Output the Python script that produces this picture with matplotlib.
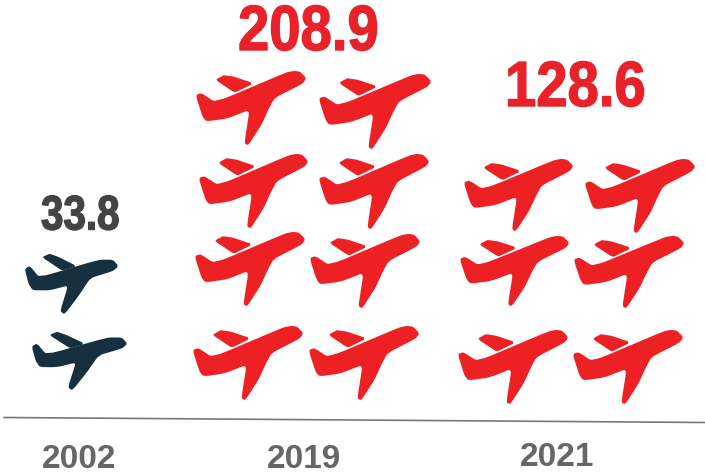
import matplotlib

matplotlib.use("Agg")
import matplotlib.pyplot as plt
import matplotlib.patheffects as pe
from matplotlib.patches import Polygon
from matplotlib.transforms import Affine2D

# =======================================================
# Data
# =======================================================

years = ["2002", "2019", "2021"]
values = [33.8, 208.9, 128.6]
value_colors = ["#444444", "#e8222a", "#e8222a"]
plane_colors = ["#17303f", "#ed2024", "#ed2024"]

# plane boxes in image pixels: left, top, right, bottom
plane_boxes = [
    [(26, 255, 117, 313), (33, 333, 126, 389)],
    [
        (197, 72, 305, 144), (320, 75, 430, 148),
        (200, 155, 307, 227), (320, 155, 428, 228),
        (196, 233, 304, 305), (311, 235, 419, 307),
        (194, 327, 302, 399), (310, 327, 418, 399),
    ],
    [
        (465, 160, 572, 230), (586, 160, 694, 232),
        (461, 237, 568, 305), (575, 237, 683, 307),
        (459, 331, 567, 403), (574, 331, 682, 403),
    ],
]
value_pos = [(41, 217), (238, 33), (505, 89)]
value_sizes = [35, 46, 46]
value_squeeze = [0.83, 0.88, 0.88]
year_pos = [(79, 459), (304, 459), (557, 457)]

# outline, in 0-1 of the plane box
red_body = [
    (0.00, 0.33), (0.04, 0.31), (0.17, 0.44), (0.83, 0.02), (0.90, 0.00), (0.95, 0.01),
    (1.00, 0.09), (0.97, 0.15), (0.71, 0.35), (0.65, 0.52), (0.59, 0.72), (0.47, 1.00),
    (0.45, 0.98), (0.50, 0.50), (0.28, 0.63), (0.09, 0.67), (0.06, 0.61),
]
red_wing = [(0.19, 0.11), (0.25, 0.06), (0.34, 0.08), (0.50, 0.16), (0.35, 0.27)]
dark_body = [
    (0.00, 0.25), (0.04, 0.21), (0.14, 0.41), (0.80, 0.10), (0.95, 0.10), (1.00, 0.19),
    (0.95, 0.26), (0.70, 0.38), (0.57, 0.69), (0.42, 1.00), (0.39, 0.96), (0.48, 0.50),
    (0.26, 0.59), (0.08, 0.59), (0.04, 0.49),
]
dark_wing = [(0.20, 0.04), (0.26, 0.00), (0.35, 0.05), (0.53, 0.19), (0.40, 0.25)]


def round_corners(pts, cut=0.14, passes=2):
    for _ in range(passes):
        out = []
        for i, (x, y) in enumerate(pts):
            px, py = pts[i - 1]
            nx, ny = pts[(i + 1) % len(pts)]
            out.append((x + cut * (px - x), y + cut * (py - y)))
            out.append((x + cut * (nx - x), y + cut * (ny - y)))
        pts = out
    return pts


def draw_plane(ax, box, color, body, wing):
    left, top, right, bottom = box
    for shape, cut in ((body, 0.14), (wing, 0.06)):
        pts = [(left + x * (right - left), top + y * (bottom - top)) for x, y in shape]
        ax.add_patch(Polygon(round_corners(pts, cut), closed=True, facecolor=color, edgecolor=color, linewidth=1.6))


class Squeeze(pe.AbstractPathEffect):
    """Tighter and heavier numbers, the reference has them narrow and tall."""

    def __init__(self, sx, stroke=1.0):
        super().__init__()
        self.sx = sx
        self.stroke = stroke

    def draw_path(self, renderer, gc, tpath, affine, rgbFace=None):
        x0 = affine.get_matrix()[0, 2]
        squeezed = affine + Affine2D().translate(-x0, 0).scale(self.sx, 1).translate(x0, 0)
        gc0 = renderer.new_gc()
        gc0.copy_properties(gc)
        gc0.set_foreground(rgbFace)
        gc0.set_linewidth(self.stroke)
        renderer.draw_path(gc0, tpath, squeezed, rgbFace)
        gc0.restore()


# =======================================================
# Plot
# =======================================================

plt.rcParams["font.family"] = ["Liberation Sans", "DejaVu Sans"]

fig = plt.figure(figsize=(7.05, 4.76), dpi=100)
ax = fig.add_axes([0, 0, 1, 1])
ax.set_xlim(0, 705)
ax.set_ylim(476, 0)
ax.axis("off")

for i, boxes in enumerate(plane_boxes):
    for box in boxes:
        if i == 0:
            draw_plane(ax, box, plane_colors[i], dark_body, dark_wing)
        else:
            draw_plane(ax, box, plane_colors[i], red_body, red_wing)

    # left aligned so the squeeze keeps the left edge in place
    txt = ax.text(value_pos[i][0], value_pos[i][1], f"{values[i]:.1f}", color=value_colors[i],
                  fontsize=value_sizes[i], fontweight="bold", ha="left", va="center")
    txt.set_path_effects([Squeeze(value_squeeze[i])])
    ax.text(year_pos[i][0], year_pos[i][1], years[i], color="#666666", fontsize=24,
            fontweight="bold", ha="center", va="center")

ax.plot([4, 705], [417.5, 422.5], color="#777777", linewidth=1.2)

fig.savefig("out.png", dpi=100)
